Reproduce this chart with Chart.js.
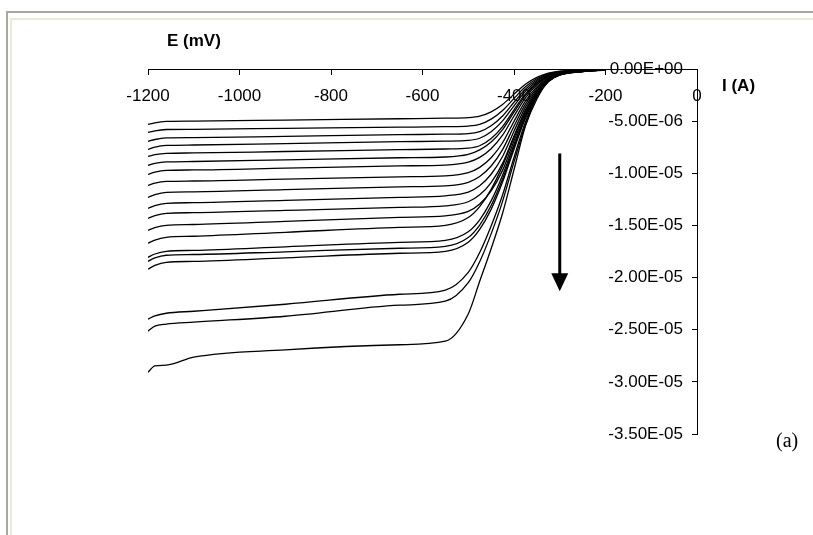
<!DOCTYPE html>
<html>
<head>
<meta charset="utf-8">
<title>E (mV) vs I (A)</title>
<script src="https://cdn.jsdelivr.net/npm/chart.js@4.4.1/dist/chart.umd.min.js"></script>
<style>
  html, body { margin: 0; padding: 0; background: #fff; }
  #wrap { position: relative; width: 813px; height: 535px; overflow: hidden; }
  .frame-outer { position: absolute; left: 6px; top: 11px; right: -10px; bottom: -10px;
    border-left: 2px solid #aca899; border-top: 2px solid #aca899; }
  .frame-inner { position: absolute; left: 10px; top: 18px; right: -10px; bottom: -10px;
    border-left: 2px solid #ece9d8; border-top: 2px solid #ece9d8; }
  #chart { position: absolute; left: 0; top: 0; }
</style>
</head>
<body>
<div id="wrap">
  <div class="frame-outer"></div>
  <div class="frame-inner"></div>
  <canvas id="chart" width="813" height="535"></canvas>
</div>
<script>
// ===== DATA =====
// potential sweep points (mV)
const E_MV = [-1200, -1185, -1160, -1100, -900, -650, -550, -500, -475, -450, -425, -400, -375, -350, -325, -300, -250, -200];

// current, in microamps (x1e-6 A), one array per curve, top to bottom
const I_01 = [-5.32, -5.16, -5.03, -5.00, -4.90, -4.77, -4.72, -4.67, -4.53, -4.11, -3.40, -2.41, -1.46, -0.80, -0.40, -0.21, -0.09, -0.04];
const I_02 = [-6.08, -5.93, -5.80, -5.78, -5.69, -5.58, -5.53, -5.47, -5.31, -4.81, -3.98, -2.82, -1.71, -0.94, -0.47, -0.25, -0.11, -0.04];
const I_03 = [-6.94, -6.76, -6.61, -6.58, -6.46, -6.30, -6.25, -6.19, -6.00, -5.44, -4.50, -3.19, -1.94, -1.06, -0.53, -0.28, -0.13, -0.05];
const I_04 = [-7.71, -7.50, -7.33, -7.29, -7.15, -6.97, -6.92, -6.85, -6.64, -6.02, -4.98, -3.53, -2.15, -1.18, -0.59, -0.31, -0.14, -0.06];
const I_05 = [-8.38, -8.22, -8.09, -8.05, -7.91, -7.74, -7.67, -7.59, -7.36, -6.67, -5.52, -3.91, -2.38, -1.30, -0.65, -0.35, -0.15, -0.06];
const I_06 = [-9.24, -9.06, -8.91, -8.87, -8.71, -8.51, -8.44, -8.19, -7.76, -7.01, -5.82, -4.14, -2.53, -1.39, -0.69, -0.35, -0.15, -0.06];
const I_07 = [-10.10, -9.89, -9.72, -9.68, -9.51, -9.29, -9.21, -8.93, -8.47, -7.64, -6.35, -4.51, -2.76, -1.52, -0.76, -0.39, -0.17, -0.06];
const I_08 = [-11.16, -10.95, -10.78, -10.74, -10.56, -10.34, -10.25, -9.94, -9.43, -8.51, -7.07, -5.02, -3.08, -1.69, -0.84, -0.43, -0.18, -0.07];
const I_09 = [-12.31, -12.05, -11.83, -11.78, -11.57, -11.30, -11.21, -10.87, -10.31, -9.30, -7.73, -5.49, -3.36, -1.85, -0.92, -0.47, -0.20, -0.08];
const I_10 = [-13.36, -13.10, -12.88, -12.82, -12.60, -12.31, -12.16, -11.80, -11.19, -10.09, -8.39, -5.96, -3.65, -2.01, -1.00, -0.51, -0.22, -0.09];
const I_11 = [-14.32, -14.06, -13.84, -13.78, -13.56, -13.27, -13.12, -12.73, -12.07, -10.89, -9.05, -6.43, -3.94, -2.16, -1.08, -0.55, -0.24, -0.09];
const I_12 = [-15.47, -15.21, -14.99, -14.91, -14.61, -14.22, -14.08, -13.66, -12.95, -11.69, -9.72, -6.90, -4.22, -2.32, -1.15, -0.59, -0.25, -0.10];
const I_13 = [-16.71, -16.40, -16.14, -16.04, -15.66, -15.18, -14.99, -14.24, -13.19, -11.54, -9.29, -6.60, -4.05, -2.17, -1.02, -0.48, -0.21, -0.09];
const I_14 = [-18.06, -17.74, -17.48, -17.39, -17.05, -16.62, -16.43, -15.61, -14.46, -12.65, -10.19, -7.23, -4.44, -2.38, -1.12, -0.53, -0.23, -0.10];
const I_15 = [-18.44, -18.12, -17.86, -17.79, -17.53, -17.19, -17.00, -16.15, -14.96, -13.09, -10.54, -7.48, -4.59, -2.47, -1.16, -0.54, -0.24, -0.10];
const I_16 = [-19.20, -18.84, -18.54, -18.45, -18.11, -17.67, -17.48, -16.61, -15.38, -13.46, -10.84, -7.69, -4.72, -2.53, -1.19, -0.56, -0.24, -0.10];
const I_17 = [-23.99, -23.68, -23.42, -23.23, -22.56, -21.60, -21.20, -19.50, -17.60, -15.05, -12.08, -8.48, -5.09, -2.54, -1.17, -0.53, -0.21, -0.08];
const I_18 = [-25.14, -24.66, -24.47, -24.28, -23.71, -22.65, -22.27, -20.49, -18.48, -15.81, -12.69, -8.91, -5.34, -2.67, -1.22, -0.56, -0.22, -0.09];
const I_19 = [-29.07, -28.47, -28.40, -27.63, -26.93, -26.44, -26.10, -23.49, -20.36, -17.23, -13.83, -9.66, -5.48, -2.87, -1.17, -0.50, -0.18, -0.08];

const CURVES = [I_01, I_02, I_03, I_04, I_05, I_06, I_07, I_08, I_09, I_10,
                I_11, I_12, I_13, I_14, I_15, I_16, I_17, I_18, I_19];

// tick values
const X_TICKS = [-1200, -1000, -800, -600, -400, -200, 0];   // mV
const Y_TICKS = [0, -5, -10, -15, -20, -25, -30, -35];       // microamps

// arrow (data units)
const ARROW_E = -300;
const ARROW_FROM = -8.1;
const ARROW_TO = -21.3;

// ===== STYLE =====
const FONT_FAMILY = '"Liberation Sans", Arial, Helvetica, sans-serif';
const TICK_FONT = { family: FONT_FAMILY, size: 17 };
const Y_LABEL_GAP = 14; // px between y labels and the axis line

Chart.defaults.font.family = FONT_FAMILY;
Chart.defaults.color = '#000';

// 0.00E+00 style labels
function sciLabel(microAmps) {
  const v = microAmps * 1e-6;
  if (v === 0) return '0.00E+00';
  const parts = v.toExponential(2).split('e');
  const exp = parseInt(parts[1], 10);
  return parts[0] + 'E' + (exp < 0 ? '-' : '+') + String(Math.abs(exp)).padStart(2, '0');
}

// y axis sits at x = 0, Chart.js puts its labels right on the line -> pull them left
const yLabelGap = {
  id: 'yLabelGap',
  beforeDraw(chart) {
    const items = chart.scales.y.getLabelItems();
    if (items._shifted) return;
    items.forEach(it => { it.options.translation[0] -= Y_LABEL_GAP; });
    items._shifted = true;
  }
};

const annotations = {
  id: 'annotations',
  afterDatasetsDraw(chart) {
    const { ctx, scales: { x, y } } = chart;
    ctx.save();

    // down arrow
    const ax = x.getPixelForValue(ARROW_E);
    const yTop = y.getPixelForValue(ARROW_FROM);
    const yTip = y.getPixelForValue(ARROW_TO);
    ctx.strokeStyle = '#000';
    ctx.fillStyle = '#000';
    ctx.lineWidth = 3;
    ctx.beginPath();
    ctx.moveTo(ax, yTop);
    ctx.lineTo(ax, yTip - 16);
    ctx.stroke();
    ctx.beginPath();
    ctx.moveTo(ax - 8.5, yTip - 18);
    ctx.lineTo(ax + 8.5, yTip - 18);
    ctx.lineTo(ax, yTip);
    ctx.closePath();
    ctx.fill();

    // axis titles
    ctx.font = 'bold 17px ' + FONT_FAMILY;
    ctx.textAlign = 'left';
    ctx.textBaseline = 'alphabetic';
    ctx.fillText('E (mV)', 167, 46);
    ctx.fillText('I (A)', 722, 91);

    // panel label
    ctx.font = '20px "Liberation Serif", "Times New Roman", serif';
    ctx.fillText('(a)', 776, 447);
    ctx.restore();
  }
};

new Chart(document.getElementById('chart'), {
  type: 'line',
  data: {
    datasets: CURVES.map((curve, i) => ({
      label: 'curve ' + (i + 1),
      data: E_MV.map((e, k) => ({ x: e, y: curve[k] })),
      borderColor: '#000',
      borderWidth: 1.3,
      pointRadius: 0,
      fill: false,
      cubicInterpolationMode: 'monotone'
    }))
  },
  options: {
    responsive: false,
    animation: false,
    events: [],
    layout: { padding: { left: 148, right: 116, top: 69, bottom: 101 } },
    plugins: {
      legend: { display: false },
      tooltip: { enabled: false }
    },
    scales: {
      x: {
        type: 'linear',
        min: -1200,
        max: 0,
        position: { y: 0 },
        afterFit: s => { s.height = 0; },
        afterBuildTicks: s => { s.ticks = X_TICKS.map(v => ({ value: v })); },
        grid: { drawOnChartArea: false, drawTicks: true, tickLength: 5, tickColor: '#000' },
        border: { display: true, color: '#000', width: 1 },
        ticks: {
          color: '#000',
          font: TICK_FONT,
          padding: 12,
          autoSkip: false,
          maxRotation: 0,
          callback: v => String(v)
        }
      },
      y: {
        type: 'linear',
        min: -35,
        max: 0,
        position: { x: 0 },
        afterFit: s => { s.width = 0; },
        afterBuildTicks: s => { s.ticks = Y_TICKS.map(v => ({ value: v })); },
        grid: { drawOnChartArea: false, drawTicks: true, tickLength: 5, tickColor: '#000' },
        border: { display: true, color: '#000', width: 1 },
        ticks: {
          color: '#000',
          font: TICK_FONT,
          autoSkip: false,
          callback: v => sciLabel(v)
        }
      }
    }
  },
  plugins: [yLabelGap, annotations]
});
</script>
</body>
</html>
